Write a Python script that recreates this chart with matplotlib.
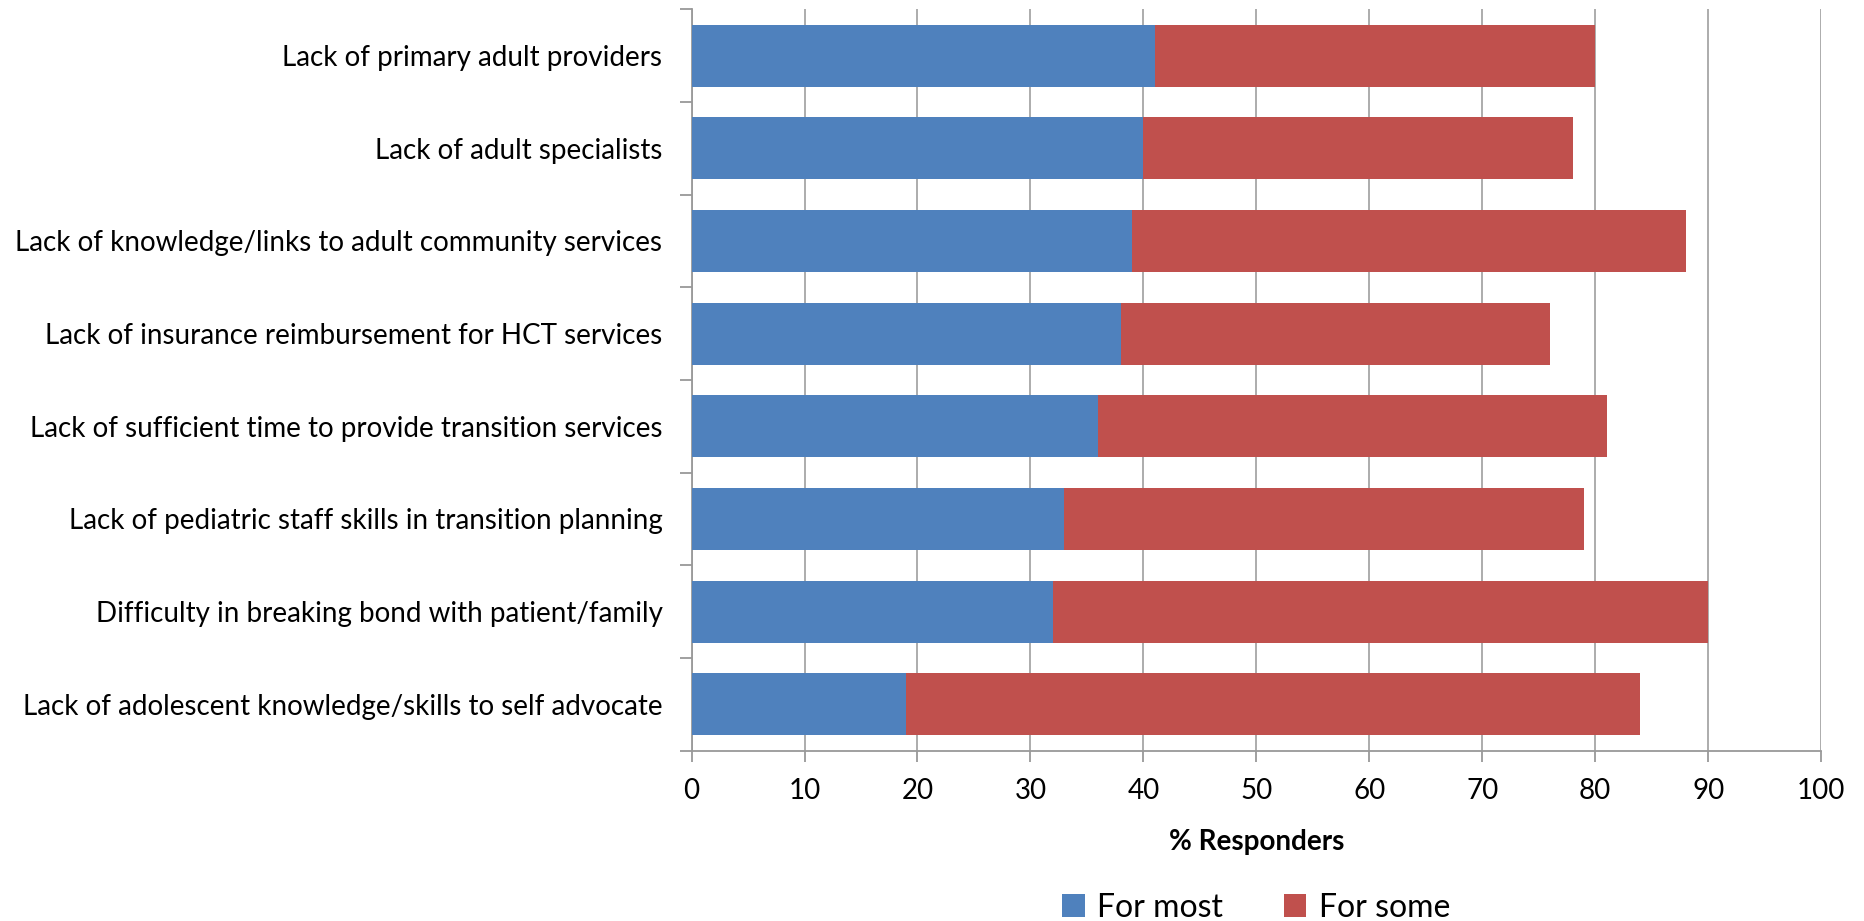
import matplotlib
matplotlib.use('Agg')
import matplotlib.pyplot as plt
import numpy as np

categories = [
    'Lack of primary adult providers',
    'Lack of adult specialists',
    'Lack of knowledge/links to adult community services',
    'Lack of insurance reimbursement for HCT services',
    'Lack of sufficient time to provide transition services',
    'Lack of pediatric staff skills in transition planning',
    'Difficulty in breaking bond with patient/family',
    'Lack of adolescent knowledge/skills to self advocate',
]
for_most = [41, 40, 39, 38, 36, 33, 32, 19]
for_some = [39, 38, 49, 38, 45, 46, 58, 65]
x_ticks = [0, 10, 20, 30, 40, 50, 60, 70, 80, 90, 100]

plt.rcParams['font.family'] = ['Lato', 'DejaVu Sans']

fig = plt.figure(figsize=(18.64, 9.21), dpi=100)
ax = fig.add_axes([0.371, 0.185, 0.606, 0.805])

y = np.arange(len(categories))
ax.barh(y, for_most, height=0.67, color='#4f81bd', label='For most', zorder=3)
ax.barh(y, for_some, left=for_most, height=0.67, color='#c0504d', label='For some', zorder=3)

ax.set_xlim(0, 100)
ax.set_ylim(len(categories) - 0.5, -0.5)
ax.set_xticks(x_ticks)
ax.set_xticklabels([str(t) for t in x_ticks], fontsize=20)
ax.set_yticks(y)
ax.set_yticklabels(categories, fontsize=20)
ax.set_yticks(np.arange(len(categories) + 1) - 0.5, minor=True)

ax.tick_params(axis='y', which='major', length=0, pad=21)
ax.tick_params(axis='y', which='minor', length=9, color='#999999', width=1.3)
ax.tick_params(axis='x', which='major', length=8, color='#999999', width=1.3, pad=12)

ax.grid(axis='x', color='#a6a6a6', linewidth=1.3, zorder=0)
for side in ['top', 'right']:
    ax.spines[side].set_visible(False)
for side in ['left', 'bottom']:
    ax.spines[side].set_color('#999999')
    ax.spines[side].set_linewidth(1.3)

ax.set_xlabel('% Responders', fontsize=20, fontweight='bold', labelpad=18)

ax.legend(loc='center', bbox_to_anchor=(0.5, -0.212), ncol=2, frameon=False,
          fontsize=23, handlelength=0.7, handleheight=0.7, columnspacing=1.9, handletextpad=0.4)

fig.savefig('out.png', dpi=100)
